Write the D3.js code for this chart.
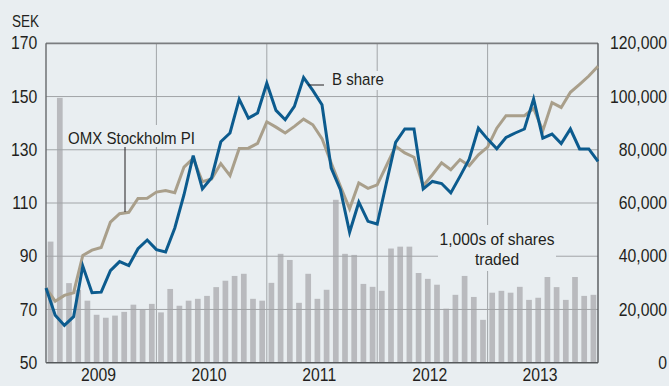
<!DOCTYPE html>
<html><head><meta charset="utf-8">
<script src="https://cdn.jsdelivr.net/npm/d3@7"></script>
<style>
html,body{margin:0;padding:0;background:#e9eef1;}
svg{display:block;font-family:"Liberation Sans",Arial,Helvetica,sans-serif;}
</style></head><body>
<svg id="chart" width="669" height="386"></svg>
<script>
// Month-start closing prices, Jan 2009 – Jan 2014 (SEK)
const years = ["2009", "2010", "2011", "2012", "2013"];
const bShare = [78.1, 67.8, 64.0, 67.3, 86.3, 76.3, 76.5, 84.6, 88.0, 86.5,
  92.8, 96.1, 92.5, 91.6, 100.6, 113.1, 127.8, 115.3, 119.5, 133.0,
  136.3, 149.0, 141.9, 143.8, 155.0, 144.8, 141.3, 146.3, 157.1, 152.3,
  146.9, 123.1, 115.0, 99.0, 110.3, 103.1, 102.1, 117.5, 132.8, 137.8,
  137.8, 115.3, 118.1, 117.3, 113.8, 120.0, 126.5, 138.1, 134.0, 130.4,
  134.6, 136.3, 137.8, 149.1, 134.4, 135.9, 132.3, 137.8, 130.3, 130.3,
  125.6];
const omx = [78.0, 73.1, 75.3, 76.3, 90.3, 92.3, 93.3, 102.8, 106.0, 106.5,
  111.7, 111.8, 114.1, 114.7, 113.9, 123.5, 126.8, 118.0, 119.0, 124.8,
  120.3, 130.5, 130.6, 132.4, 140.5, 138.5, 136.3, 138.8, 141.5, 139.4,
  134.2, 125.0, 116.3, 107.8, 117.5, 115.5, 116.8, 124.0, 131.3, 128.8,
  127.2, 116.5, 120.6, 125.1, 122.5, 126.3, 124.0, 128.1, 131.0, 138.1,
  142.8, 142.8, 142.8, 145.5, 137.2, 147.7, 145.9, 151.6, 154.6, 157.7,
  161.4];
// Shares traded per month (thousands)
const volume = [45500, 99500, 29900, 27400, 23300, 18000, 16900, 17700, 19100, 21800,
  19900, 22100, 18900, 27700, 21400, 23300, 24000, 25100, 28400, 30800,
  32600, 33400, 24000, 23300, 30000, 40900, 38600, 22500, 33400, 24000,
  27400, 61200, 40900, 40500, 29600, 28500, 27000, 42900, 43600, 43600,
  33700, 31500, 29300, 20300, 25500, 32600, 24700, 16100, 26300, 27000,
  26300, 28500, 23600, 24400, 32200, 28400, 23600, 32200, 25100, 25500];
const priceTicks = [50, 70, 90, 110, 130, 150, 170];
const volumeTicks = [0, 20000, 40000, 60000, 80000, 100000, 120000];

const BG = "#e9eef1";
const INK = "#231f20";
const svg = d3.select("#chart");
const plotL = 46, plotR = 598, plotT = 43.3, plotB = 362.7;

const x = d3.scaleLinear().domain([0, volume.length]).range([plotL, plotR]);
const yL = d3.scaleLinear().domain([50, 170]).range([plotB, plotT]);
const yR = d3.scaleLinear().domain([0, 120000]).range([plotB, plotT]);

// horizontally condensed type: scale glyphs in x, keep the anchor point
function squeeze(sel, k) {
  sel.each(function () {
    const t = d3.select(this);
    const x0 = +t.attr("x") || 0;
    t.attr("x", x0 / k).attr("transform", `scale(${k},1)`);
  });
  return sel;
}

svg.append("rect").attr("width", 669).attr("height", 386).attr("fill", BG);

// volume bars
svg.append("g").selectAll("rect").data(volume).join("rect")
  .attr("x", (d, i) => x(i + 0.5) - 2.85)
  .attr("width", 5.7)
  .attr("y", d => yR(d))
  .attr("height", d => plotB - yR(d))
  .attr("fill", "#b9babe");

// grid
const grid = svg.append("g").attr("stroke", "#a2a5a8").attr("stroke-width", 1);
grid.selectAll(".h").data(priceTicks.filter(t => t > 50 && t < 170)).join("line").attr("class", "h")
  .attr("x1", plotL).attr("x2", plotR)
  .attr("y1", d => yL(d)).attr("y2", d => yL(d));
grid.selectAll(".v").data([12, 24, 36, 48]).join("line").attr("class", "v")
  .attr("x1", d => x(d)).attr("x2", d => x(d))
  .attr("y1", plotT).attr("y2", plotB);

// frame
svg.append("line").attr("x1", plotL).attr("x2", plotR).attr("y1", plotT).attr("y2", plotT)
  .attr("stroke", "#7b7d80").attr("stroke-width", 1.8);
svg.append("line").attr("x1", plotL).attr("x2", plotR).attr("y1", plotB).attr("y2", plotB)
  .attr("stroke", "#55585b").attr("stroke-width", 1.5);
svg.append("line").attr("x1", plotL).attr("x2", plotL).attr("y1", plotT).attr("y2", plotB)
  .attr("stroke", "#66696c").attr("stroke-width", 1.4);
svg.append("line").attr("x1", plotR).attr("x2", plotR).attr("y1", plotT).attr("y2", plotB)
  .attr("stroke", "#55585b").attr("stroke-width", 1.4);

// label boxes hiding the grid behind annotations
function labelBox(x0, y0, w, h) {
  svg.append("rect").attr("x", x0).attr("y", y0).attr("width", w).attr("height", h).attr("fill", BG);
}
labelBox(64, 125, 135, 22);
labelBox(328, 71, 60, 19);
labelBox(438, 225, 118, 46);

// price lines
const line = d3.line().x((d, i) => x(i)).y(d => yL(d));
svg.append("path").datum(omx).attr("d", line)
  .attr("fill", "none").attr("stroke", "#a99f8b").attr("stroke-width", 3).attr("stroke-linejoin", "miter");
svg.append("path").datum(bShare).attr("d", line)
  .attr("fill", "none").attr("stroke", "#0c5b8e").attr("stroke-width", 3).attr("stroke-linejoin", "miter");

// axes
const axL = svg.append("g").attr("transform", `translate(${plotL},0)`)
  .call(d3.axisLeft(yL).tickValues(priceTicks).tickSize(0).tickPadding(8.7));
const axR = svg.append("g").attr("transform", `translate(${plotR},0)`)
  .call(d3.axisRight(yR).tickValues(volumeTicks).tickSize(0).tickFormat(d3.format(",")));
axR.selectAll("text").attr("x", 69).attr("text-anchor", "end");
const axB = svg.append("g").attr("transform", `translate(0,${plotB})`)
  .call(d3.axisBottom(d3.scalePoint().domain(years).range([x(5.65), x(53.65)])).tickSize(0).tickPadding(6.3));
[axL, axR, axB].forEach(a => {
  a.select(".domain").remove();
  a.attr("font-family", null).attr("font-size", null);
  a.selectAll("text").attr("fill", INK).style("font-size", "17.5px");
  squeeze(a.selectAll("text"), 0.9);
});

// text annotations
const txt = (s, tx, ty, size, k, anchor) => squeeze(svg.append("text").attr("x", tx).attr("y", ty)
  .attr("text-anchor", anchor || "start").attr("fill", INK).style("font-size", size + "px").text(s), k);
txt("SEK", 12, 27, 16.5, 0.82);
txt("OMX Stockholm PI", 68, 144, 17, 0.885);
txt("B share", 332, 85.5, 17, 0.885);
txt("1,000s of shares", 497, 245.5, 17, 0.915, "middle");
txt("traded", 497, 265, 17, 0.915, "middle");

// leaders
const lead = svg.append("g").attr("stroke", INK).attr("stroke-width", 1);
lead.append("line").attr("x1", 125).attr("x2", 125).attr("y1", 147).attr("y2", 212);
lead.append("line").attr("x1", 308).attr("x2", 324).attr("y1", 85).attr("y2", 85);
</script>
</body></html>
